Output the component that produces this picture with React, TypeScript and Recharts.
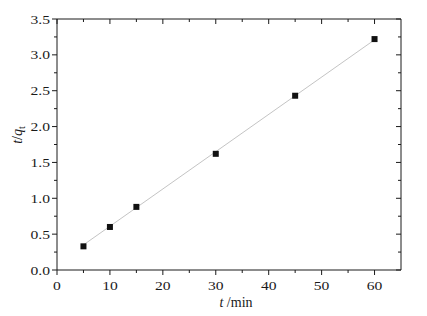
import { ComposedChart, Line, Scatter, XAxis, YAxis, Label } from "recharts";

const times = [5, 10, 15, 30, 45, 60];
const tOverQ = [0.33, 0.6, 0.88, 1.62, 2.43, 3.22];

// straight-line fit, end points
const fitTimes = [5, 60];
const fitValues = [0.35, 3.21];

const xTicks = [0, 5, 10, 15, 20, 25, 30, 35, 40, 45, 50, 55, 60];
const yTicks = [0, 0.25, 0.5, 0.75, 1, 1.25, 1.5, 1.75, 2, 2.25, 2.5, 2.75, 3, 3.25, 3.5];

const points = times.map((t, i) => ({ t, v: tOverQ[i] }));
const fit = fitTimes.map((t, i) => ({ t, v: fitValues[i] }));

const FONT = "'Liberation Serif', 'Times New Roman', serif";
const INK = "#1a1a1a";

function BottomTick(props: any) {
  const { x, y, payload } = props;
  const major = payload.value % 10 === 0;
  return (
    <g>
      <line x1={x} y1={y} x2={x} y2={y + (major ? 5 : 3)} stroke={INK} />
      {major && (
        <text
          transform={`translate(${x} ${y + 20}) scale(1.2 1)`}
          textAnchor="middle"
          fontFamily={FONT}
          fontSize={13}
          fill={INK}
        >
          {payload.value}
        </text>
      )}
    </g>
  );
}

function TopTick(props: any) {
  const { x, y, payload } = props;
  const major = payload.value % 10 === 0;
  return <line x1={x} y1={y} x2={x} y2={y + (major ? 5 : 3)} stroke={INK} />;
}

function LeftTick(props: any) {
  const { x, y, payload } = props;
  const major = payload.value % 0.5 === 0;
  return (
    <g>
      <line x1={x} y1={y} x2={x - (major ? 5 : 3)} y2={y} stroke={INK} />
      {major && (
        <text
          transform={`translate(${x - 7} ${y + 4.5}) scale(1.2 1)`}
          textAnchor="end"
          fontFamily={FONT}
          fontSize={13}
          fill={INK}
        >
          {payload.value.toFixed(1)}
        </text>
      )}
    </g>
  );
}

function RightTick(props: any) {
  const { x, y, payload } = props;
  const major = payload.value % 0.5 === 0;
  return <line x1={x} y1={y} x2={x - (major ? 5 : 3)} y2={y} stroke={INK} />;
}

const Square = (p: any) => <rect x={p.cx - 3} y={p.cy - 3} width={6} height={6} fill="#111" />;

export default function App() {
  return (
    <div style={{ position: "absolute", left: 0, top: 0, background: "#fff" }}>
      <ComposedChart
        width={427}
        height={316}
        margin={{ top: 18, right: 25, bottom: 6, left: 7 }}
      >
        <XAxis
          xAxisId="bottom"
          dataKey="t"
          type="number"
          domain={[0, 65]}
          ticks={xTicks}
          interval={0}
          height={40}
          tickSize={0}
          tickMargin={0}
          tickLine={false}
          axisLine={{ stroke: INK }}
          tick={<BottomTick />}
        >
          <Label
            content={() => (
              <text x={236} y={307} textAnchor="middle" fontFamily={FONT} fontSize={14} fill={INK}>
                <tspan fontStyle="italic">t</tspan>
                <tspan> /min</tspan>
              </text>
            )}
          />
        </XAxis>
        <XAxis
          xAxisId="top"
          orientation="top"
          dataKey="t"
          type="number"
          domain={[0, 65]}
          ticks={xTicks}
          interval={0}
          height={1}
          tickSize={0}
          tickMargin={0}
          tickLine={false}
          axisLine={{ stroke: INK }}
          tick={<TopTick />}
        />
        <YAxis
          yAxisId="left"
          type="number"
          domain={[0, 3.5]}
          ticks={yTicks}
          interval={0}
          width={50}
          tickSize={0}
          tickMargin={0}
          tickLine={false}
          axisLine={{ stroke: INK }}
          tick={<LeftTick />}
        >
          <Label
            content={() => (
              <text
                transform="translate(22 135) rotate(-90)"
                textAnchor="middle"
                fontFamily={FONT}
                fontSize={14}
                fill={INK}
              >
                <tspan fontStyle="italic">t</tspan>
                <tspan>/</tspan>
                <tspan fontStyle="italic">q</tspan>
                <tspan fontSize={10} dy={3}>t</tspan>
              </text>
            )}
          />
        </YAxis>
        <YAxis
          yAxisId="right"
          orientation="right"
          type="number"
          domain={[0, 3.5]}
          ticks={yTicks}
          interval={0}
          width={1}
          tickSize={0}
          tickMargin={0}
          tickLine={false}
          axisLine={{ stroke: INK }}
          tick={<RightTick />}
        />
        <Line
          xAxisId="top"
          yAxisId="right"
          data={fit}
          dataKey="v"
          stroke="#c4c4c4"
          strokeWidth={1}
          dot={false}
          activeDot={false}
          isAnimationActive={false}
        />
        <Scatter
          xAxisId="bottom"
          yAxisId="left"
          data={points}
          dataKey="v"
          shape={Square}
          isAnimationActive={false}
        />
      </ComposedChart>
    </div>
  );
}
